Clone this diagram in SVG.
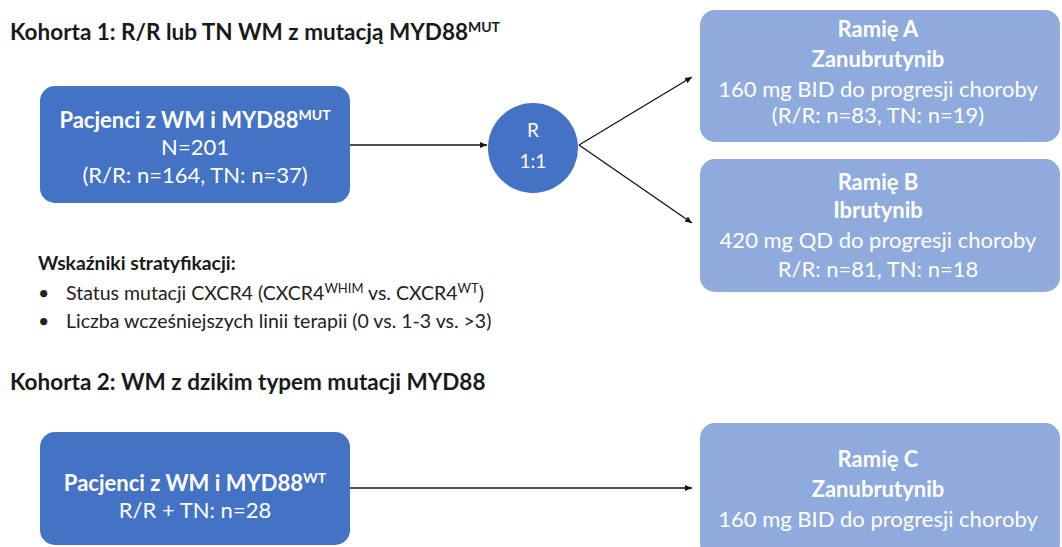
<svg xmlns="http://www.w3.org/2000/svg" width="1062" height="547" viewBox="0 0 1062 547">
<style>
.t{font-family:Lato,"Open Sans","Liberation Sans",sans-serif;}
.h{font-size:22.5px;font-weight:bold;fill:#1a1a1a;}
.hs{font-size:19.3px;font-weight:bold;fill:#1a1a1a;}
.b{font-size:19.5px;fill:#222;}
.w{fill:#fff;font-size:22px;text-anchor:middle;}
.r{fill:#fff;font-size:19px;text-anchor:middle;}
.wb{font-weight:bold;}
.dark{fill:#4472C4;}
.light{fill:#8FAADC;}
.c{stroke:#111;stroke-width:1.3;fill:none;marker-end:url(#ah);}
</style>
<defs>
<marker id="ah" markerWidth="8" markerHeight="8" refX="7" refY="4" orient="auto" markerUnits="userSpaceOnUse">
<path d="M0,1 L7,4 L0,7 Z" fill="#111"/>
</marker>
</defs>
<rect width="1062" height="547" fill="#fff"/>
<g id="title1"><text class="t h" x="10" y="40">Kohorta 1: R/R lub TN WM z mutacją MYD88<tspan font-size="14" dy="-8">MUT</tspan></text></g>
<g id="box1">
<rect class="dark" x="40" y="86" width="310" height="117" rx="15"/>
<text class="t w" x="195" y="128"><tspan class="wb">Pacjenci z WM i MYD88<tspan font-size="14" dy="-8">MUT</tspan></tspan></text>
<text class="t w" x="195" y="155">N=201</text>
<text class="t w" x="195" y="183">(R/R: n=164, TN: n=37)</text>
</g>
<g id="rand">
<circle class="dark" cx="533" cy="148" r="45"/>
<text class="t r" x="533" y="137">R</text>
<text class="t r" x="533" y="168">1:1</text>
</g>
<g id="armA">
<rect class="light" x="700" y="10" width="360" height="132" rx="15"/>
<text class="t w wb" x="878" y="37">Ramię A</text>
<text class="t w wb" x="878" y="67">Zanubrutynib</text>
<text class="t w" x="878" y="97">160 mg BID do progresji choroby</text>
<text class="t w" x="878" y="123">(R/R: n=83, TN: n=19)</text>
</g>
<g id="armB">
<rect class="light" x="700" y="159" width="360" height="133" rx="15"/>
<text class="t w wb" x="878" y="190">Ramię B</text>
<text class="t w wb" x="878" y="218">Ibrutynib</text>
<text class="t w" x="878" y="248">420 mg QD do progresji choroby</text>
<text class="t w" x="878" y="277">R/R: n=81, TN: n=18</text>
</g>
<g id="strat">
<text class="t hs" x="38" y="270">Wskaźniki stratyfikacji:</text>
<text class="t b" x="38" y="300">•</text>
<text class="t b" x="66" y="300">Status mutacji CXCR4 (CXCR4<tspan font-size="13" dy="-7">WHIM</tspan><tspan dy="7"> vs. CXCR4</tspan><tspan font-size="13" dy="-7">WT</tspan><tspan dy="7">)</tspan></text>
<text class="t b" x="38" y="328">•</text>
<text class="t b" x="66" y="328">Liczba wcześniejszych linii terapii (0 vs. 1-3 vs. &gt;3)</text>
</g>
<g id="title2"><text class="t h" x="10" y="390">Kohorta 2: WM z dzikim typem mutacji MYD88</text></g>
<g id="box3">
<rect class="dark" x="40" y="432" width="310" height="113" rx="15"/>
<text class="t w" x="195" y="491"><tspan class="wb">Pacjenci z WM i MYD88<tspan font-size="14" dy="-8">WT</tspan></tspan></text>
<text class="t w" x="195" y="518">R/R + TN: n=28</text>
</g>
<g id="armC">
<rect class="light" x="700" y="423" width="360" height="135" rx="15"/>
<text class="t w wb" x="878" y="467">Ramię C</text>
<text class="t w wb" x="878" y="497">Zanubrutynib</text>
<text class="t w" x="878" y="527">160 mg BID do progresji choroby</text>
</g>
<g id="connectors">
<line class="c" x1="350" y1="145" x2="487" y2="145"/>
<line class="c" x1="579" y1="145" x2="692" y2="77"/>
<line class="c" x1="579" y1="145" x2="692" y2="223"/>
<line class="c" x1="350" y1="488" x2="692" y2="488"/>
</g>
</svg>
